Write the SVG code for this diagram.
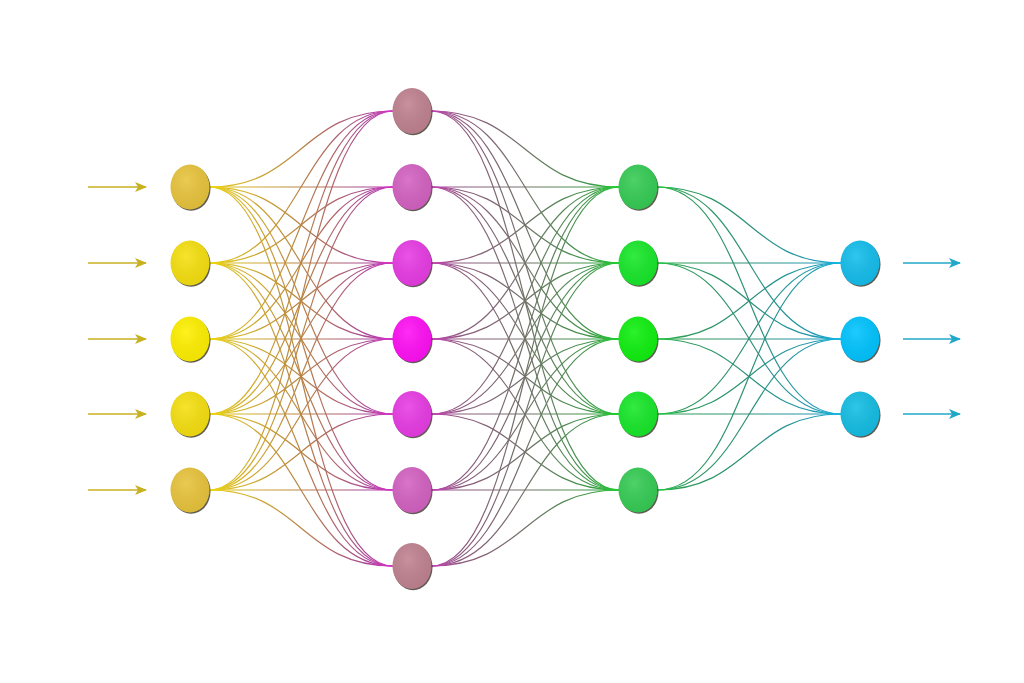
<svg xmlns="http://www.w3.org/2000/svg" width="1024" height="683" viewBox="0 0 1024 683">
<defs>
<linearGradient id="g1" gradientUnits="userSpaceOnUse" x1="209" y1="0" x2="393" y2="0">
<stop offset="0" stop-color="#ECD810"/><stop offset="0.15" stop-color="#D8B828"/><stop offset="0.5" stop-color="#B88444"/><stop offset="0.85" stop-color="#A84894"/><stop offset="1" stop-color="#D830C8"/>
</linearGradient>
<linearGradient id="g2" gradientUnits="userSpaceOnUse" x1="431" y1="0" x2="619" y2="0">
<stop offset="0" stop-color="#C840B8"/><stop offset="0.15" stop-color="#8E5A80"/><stop offset="0.5" stop-color="#727268"/><stop offset="0.85" stop-color="#3E9848"/><stop offset="1" stop-color="#20D030"/>
</linearGradient>
<linearGradient id="g3" gradientUnits="userSpaceOnUse" x1="657" y1="0" x2="841" y2="0">
<stop offset="0" stop-color="#22C840"/><stop offset="0.15" stop-color="#2E9A5C"/><stop offset="0.5" stop-color="#2E9078"/><stop offset="0.85" stop-color="#2098B0"/><stop offset="1" stop-color="#10B8E4"/>
</linearGradient>
<radialGradient id="hl" cx="0.4" cy="0.35" r="0.7">
<stop offset="0" stop-color="#ffffff" stop-opacity="0.12"/><stop offset="1" stop-color="#000000" stop-opacity="0.06"/>
</radialGradient>
<marker id="ay" viewBox="0 0 12 10" refX="11" refY="5" markerWidth="12" markerHeight="10" markerUnits="userSpaceOnUse" orient="auto">
<path d="M0,0 L12,5 L0,10 L3,5 Z" fill="#C8B020"/>
</marker>
<marker id="ac" viewBox="0 0 12 10" refX="11" refY="5" markerWidth="12" markerHeight="10" markerUnits="userSpaceOnUse" orient="auto">
<path d="M0,0 L12,5 L0,10 L3,5 Z" fill="#20A8C8"/>
</marker>
</defs>
<style>
.c1{fill:none;stroke:url(#g1);stroke-width:1.2}
.c2{fill:none;stroke:url(#g2);stroke-width:1.2}
.c3{fill:none;stroke:url(#g3);stroke-width:1.2}
.ai{stroke:#C8B020;stroke-width:1.5;fill:none}
.ao{stroke:#20A8C8;stroke-width:1.5;fill:none}
.sh{fill:#2a2418;opacity:0.75}
.hl{fill:url(#hl)}
</style>
<rect width="1024" height="683" fill="#ffffff"/>
<g id="connectors">
<g id="gap1">
<path class="c1" d="M209,187 C301,187 301,111 393,111"/><path class="c1" d="M209,187 C301,187 301,187 393,187"/><path class="c1" d="M209,187 C301,187 301,263 393,263"/><path class="c1" d="M209,187 C301,187 301,339 393,339"/><path class="c1" d="M209,187 C301,187 301,414 393,414"/><path class="c1" d="M209,187 C301,187 301,490 393,490"/><path class="c1" d="M209,187 C301,187 301,566 393,566"/>
<path class="c1" d="M209,263 C301,263 301,111 393,111"/><path class="c1" d="M209,263 C301,263 301,187 393,187"/><path class="c1" d="M209,263 C301,263 301,263 393,263"/><path class="c1" d="M209,263 C301,263 301,339 393,339"/><path class="c1" d="M209,263 C301,263 301,414 393,414"/><path class="c1" d="M209,263 C301,263 301,490 393,490"/><path class="c1" d="M209,263 C301,263 301,566 393,566"/>
<path class="c1" d="M209,339 C301,339 301,111 393,111"/><path class="c1" d="M209,339 C301,339 301,187 393,187"/><path class="c1" d="M209,339 C301,339 301,263 393,263"/><path class="c1" d="M209,339 C301,339 301,339 393,339"/><path class="c1" d="M209,339 C301,339 301,414 393,414"/><path class="c1" d="M209,339 C301,339 301,490 393,490"/><path class="c1" d="M209,339 C301,339 301,566 393,566"/>
<path class="c1" d="M209,414 C301,414 301,111 393,111"/><path class="c1" d="M209,414 C301,414 301,187 393,187"/><path class="c1" d="M209,414 C301,414 301,263 393,263"/><path class="c1" d="M209,414 C301,414 301,339 393,339"/><path class="c1" d="M209,414 C301,414 301,414 393,414"/><path class="c1" d="M209,414 C301,414 301,490 393,490"/><path class="c1" d="M209,414 C301,414 301,566 393,566"/>
<path class="c1" d="M209,490 C301,490 301,111 393,111"/><path class="c1" d="M209,490 C301,490 301,187 393,187"/><path class="c1" d="M209,490 C301,490 301,263 393,263"/><path class="c1" d="M209,490 C301,490 301,339 393,339"/><path class="c1" d="M209,490 C301,490 301,414 393,414"/><path class="c1" d="M209,490 C301,490 301,490 393,490"/><path class="c1" d="M209,490 C301,490 301,566 393,566"/>
</g>
<g id="gap2">
<path class="c2" d="M431,111 C525,111 525,187 619,187"/><path class="c2" d="M431,111 C525,111 525,263 619,263"/><path class="c2" d="M431,111 C525,111 525,339 619,339"/><path class="c2" d="M431,111 C525,111 525,414 619,414"/><path class="c2" d="M431,111 C525,111 525,490 619,490"/>
<path class="c2" d="M431,187 C525,187 525,187 619,187"/><path class="c2" d="M431,187 C525,187 525,263 619,263"/><path class="c2" d="M431,187 C525,187 525,339 619,339"/><path class="c2" d="M431,187 C525,187 525,414 619,414"/><path class="c2" d="M431,187 C525,187 525,490 619,490"/>
<path class="c2" d="M431,263 C525,263 525,187 619,187"/><path class="c2" d="M431,263 C525,263 525,263 619,263"/><path class="c2" d="M431,263 C525,263 525,339 619,339"/><path class="c2" d="M431,263 C525,263 525,414 619,414"/><path class="c2" d="M431,263 C525,263 525,490 619,490"/>
<path class="c2" d="M431,339 C525,339 525,187 619,187"/><path class="c2" d="M431,339 C525,339 525,263 619,263"/><path class="c2" d="M431,339 C525,339 525,339 619,339"/><path class="c2" d="M431,339 C525,339 525,414 619,414"/><path class="c2" d="M431,339 C525,339 525,490 619,490"/>
<path class="c2" d="M431,414 C525,414 525,187 619,187"/><path class="c2" d="M431,414 C525,414 525,263 619,263"/><path class="c2" d="M431,414 C525,414 525,339 619,339"/><path class="c2" d="M431,414 C525,414 525,414 619,414"/><path class="c2" d="M431,414 C525,414 525,490 619,490"/>
<path class="c2" d="M431,490 C525,490 525,187 619,187"/><path class="c2" d="M431,490 C525,490 525,263 619,263"/><path class="c2" d="M431,490 C525,490 525,339 619,339"/><path class="c2" d="M431,490 C525,490 525,414 619,414"/><path class="c2" d="M431,490 C525,490 525,490 619,490"/>
<path class="c2" d="M431,566 C525,566 525,187 619,187"/><path class="c2" d="M431,566 C525,566 525,263 619,263"/><path class="c2" d="M431,566 C525,566 525,339 619,339"/><path class="c2" d="M431,566 C525,566 525,414 619,414"/><path class="c2" d="M431,566 C525,566 525,490 619,490"/>
</g>
<g id="gap3">
<path class="c3" d="M657,187 C749,187 749,263 841,263"/><path class="c3" d="M657,187 C749,187 749,339 841,339"/><path class="c3" d="M657,187 C749,187 749,414 841,414"/>
<path class="c3" d="M657,263 C749,263 749,263 841,263"/><path class="c3" d="M657,263 C749,263 749,339 841,339"/><path class="c3" d="M657,263 C749,263 749,414 841,414"/>
<path class="c3" d="M657,339 C749,339 749,263 841,263"/><path class="c3" d="M657,339 C749,339 749,339 841,339"/><path class="c3" d="M657,339 C749,339 749,414 841,414"/>
<path class="c3" d="M657,414 C749,414 749,263 841,263"/><path class="c3" d="M657,414 C749,414 749,339 841,339"/><path class="c3" d="M657,414 C749,414 749,414 841,414"/>
<path class="c3" d="M657,490 C749,490 749,263 841,263"/><path class="c3" d="M657,490 C749,490 749,339 841,339"/><path class="c3" d="M657,490 C749,490 749,414 841,414"/>
</g>
<g id="inputs">
<line class="ai" x1="88" y1="187" x2="146" y2="187" marker-end="url(#ay)"/>
<line class="ai" x1="88" y1="263" x2="146" y2="263" marker-end="url(#ay)"/>
<line class="ai" x1="88" y1="339" x2="146" y2="339" marker-end="url(#ay)"/>
<line class="ai" x1="88" y1="414" x2="146" y2="414" marker-end="url(#ay)"/>
<line class="ai" x1="88" y1="490" x2="146" y2="490" marker-end="url(#ay)"/>
</g>
<g id="outputs">
<line class="ao" x1="903" y1="263" x2="960" y2="263" marker-end="url(#ac)"/>
<line class="ao" x1="903" y1="339" x2="960" y2="339" marker-end="url(#ac)"/>
<line class="ao" x1="903" y1="414" x2="960" y2="414" marker-end="url(#ac)"/>
</g>
</g>
<g id="layer1">
<g id="n1_1"><ellipse class="sh" cx="191" cy="188.3" rx="19.5" ry="22.5"/><ellipse cx="190" cy="187" rx="19.5" ry="22.5" fill="#E8C43C"/><ellipse class="hl" cx="190" cy="187" rx="19.5" ry="22.5"/></g>
<g id="n1_2"><ellipse class="sh" cx="191" cy="264.3" rx="19.5" ry="22.5"/><ellipse cx="190" cy="263" rx="19.5" ry="22.5" fill="#F6E010"/><ellipse class="hl" cx="190" cy="263" rx="19.5" ry="22.5"/></g>
<g id="n1_3"><ellipse class="sh" cx="191" cy="340.3" rx="19.5" ry="22.5"/><ellipse cx="190" cy="339" rx="19.5" ry="22.5" fill="#FFF000"/><ellipse class="hl" cx="190" cy="339" rx="19.5" ry="22.5"/></g>
<g id="n1_4"><ellipse class="sh" cx="191" cy="415.3" rx="19.5" ry="22.5"/><ellipse cx="190" cy="414" rx="19.5" ry="22.5" fill="#F6E010"/><ellipse class="hl" cx="190" cy="414" rx="19.5" ry="22.5"/></g>
<g id="n1_5"><ellipse class="sh" cx="191" cy="491.3" rx="19.5" ry="22.5"/><ellipse cx="190" cy="490" rx="19.5" ry="22.5" fill="#E8C43C"/><ellipse class="hl" cx="190" cy="490" rx="19.5" ry="22.5"/></g>
</g>
<g id="layer2">
<g id="n2_1"><ellipse class="sh" cx="413" cy="112.3" rx="19.5" ry="23"/><ellipse cx="412" cy="111" rx="19.5" ry="23" fill="#C08290"/><ellipse class="hl" cx="412" cy="111" rx="19.5" ry="23"/></g>
<g id="n2_2"><ellipse class="sh" cx="413" cy="188.3" rx="19.5" ry="23"/><ellipse cx="412" cy="187" rx="19.5" ry="23" fill="#D462C2"/><ellipse class="hl" cx="412" cy="187" rx="19.5" ry="23"/></g>
<g id="n2_3"><ellipse class="sh" cx="413" cy="264.3" rx="19.5" ry="23"/><ellipse cx="412" cy="263" rx="19.5" ry="23" fill="#E83CE4"/><ellipse class="hl" cx="412" cy="263" rx="19.5" ry="23"/></g>
<g id="n2_4"><ellipse class="sh" cx="413" cy="340.3" rx="19.5" ry="23"/><ellipse cx="412" cy="339" rx="19.5" ry="23" fill="#FF10F4"/><ellipse class="hl" cx="412" cy="339" rx="19.5" ry="23"/></g>
<g id="n2_5"><ellipse class="sh" cx="413" cy="415.3" rx="19.5" ry="23"/><ellipse cx="412" cy="414" rx="19.5" ry="23" fill="#E83CE4"/><ellipse class="hl" cx="412" cy="414" rx="19.5" ry="23"/></g>
<g id="n2_6"><ellipse class="sh" cx="413" cy="491.3" rx="19.5" ry="23"/><ellipse cx="412" cy="490" rx="19.5" ry="23" fill="#D462C2"/><ellipse class="hl" cx="412" cy="490" rx="19.5" ry="23"/></g>
<g id="n2_7"><ellipse class="sh" cx="413" cy="567.3" rx="19.5" ry="23"/><ellipse cx="412" cy="566" rx="19.5" ry="23" fill="#C08290"/><ellipse class="hl" cx="412" cy="566" rx="19.5" ry="23"/></g>
</g>
<g id="layer3">
<g id="n3_1"><ellipse class="sh" cx="639" cy="188.3" rx="19.5" ry="22.5"/><ellipse cx="638" cy="187" rx="19.5" ry="22.5" fill="#36CC55"/><ellipse class="hl" cx="638" cy="187" rx="19.5" ry="22.5"/></g>
<g id="n3_2"><ellipse class="sh" cx="639" cy="264.3" rx="19.5" ry="22.5"/><ellipse cx="638" cy="263" rx="19.5" ry="22.5" fill="#18E82A"/><ellipse class="hl" cx="638" cy="263" rx="19.5" ry="22.5"/></g>
<g id="n3_3"><ellipse class="sh" cx="639" cy="340.3" rx="19.5" ry="22.5"/><ellipse cx="638" cy="339" rx="19.5" ry="22.5" fill="#10F010"/><ellipse class="hl" cx="638" cy="339" rx="19.5" ry="22.5"/></g>
<g id="n3_4"><ellipse class="sh" cx="639" cy="415.3" rx="19.5" ry="22.5"/><ellipse cx="638" cy="414" rx="19.5" ry="22.5" fill="#18E82A"/><ellipse class="hl" cx="638" cy="414" rx="19.5" ry="22.5"/></g>
<g id="n3_5"><ellipse class="sh" cx="639" cy="491.3" rx="19.5" ry="22.5"/><ellipse cx="638" cy="490" rx="19.5" ry="22.5" fill="#36CC55"/><ellipse class="hl" cx="638" cy="490" rx="19.5" ry="22.5"/></g>
</g>
<g id="layer4">
<g id="n4_1"><ellipse class="sh" cx="861" cy="264.3" rx="19.5" ry="22.5"/><ellipse cx="860" cy="263" rx="19.5" ry="22.5" fill="#14BEEC"/><ellipse class="hl" cx="860" cy="263" rx="19.5" ry="22.5"/></g>
<g id="n4_2"><ellipse class="sh" cx="861" cy="340.3" rx="19.5" ry="22.5"/><ellipse cx="860" cy="339" rx="19.5" ry="22.5" fill="#00C4FF"/><ellipse class="hl" cx="860" cy="339" rx="19.5" ry="22.5"/></g>
<g id="n4_3"><ellipse class="sh" cx="861" cy="415.3" rx="19.5" ry="22.5"/><ellipse cx="860" cy="414" rx="19.5" ry="22.5" fill="#14BEE4"/><ellipse class="hl" cx="860" cy="414" rx="19.5" ry="22.5"/></g>
</g>
</svg>
